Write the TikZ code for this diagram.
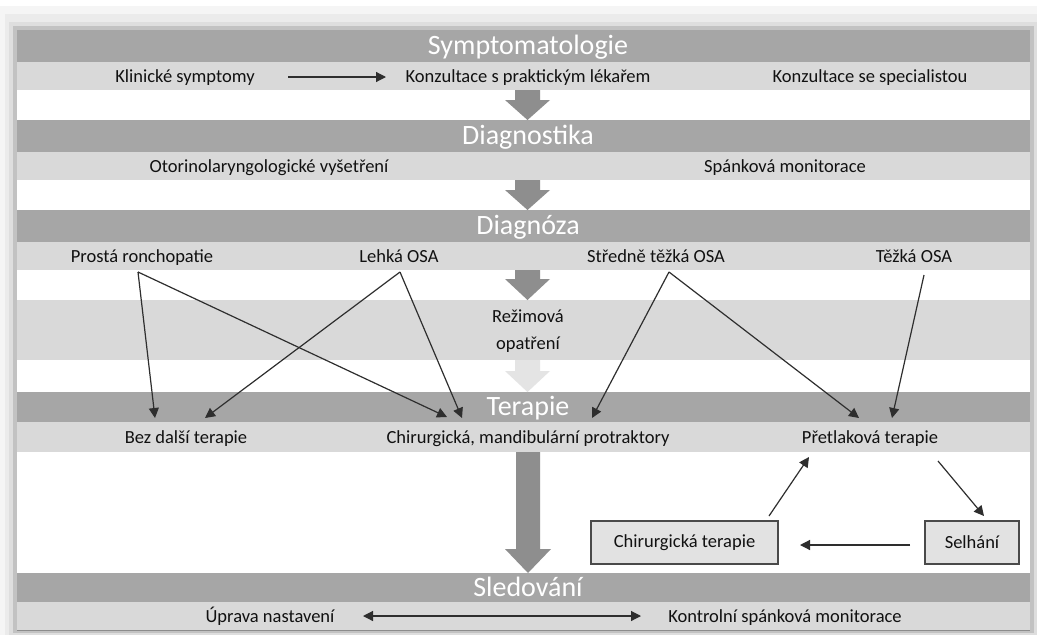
\documentclass[tikz,border=0pt]{standalone}
\usepackage{fontspec}
\setmainfont{Carlito}
\usetikzlibrary{arrows.meta}
\definecolor{bandD}{HTML}{A6A6A6}
\definecolor{bandL}{HTML}{D9D9D9}
\definecolor{bigar}{HTML}{8E8E8E}
\definecolor{bigarL}{HTML}{E4E4E4}
\definecolor{ink}{HTML}{111111}
\definecolor{lnk}{HTML}{2E2E2E}
\definecolor{boxfill}{HTML}{E2E2E2}
\definecolor{boxline}{HTML}{4A4A4A}
\begin{document}
\begin{tikzpicture}[x=1pt,y=-1pt,
  titletext/.style={text=white,font=\fontsize{28}{30}\selectfont,inner sep=0pt,anchor=base},
  lbl/.style={text=ink,font=\fontsize{18.5}{20}\selectfont,inner sep=0pt,anchor=base},
  conn/.style={draw=lnk,line width=1.2pt,-{Triangle[length=10pt,width=10pt]}},
  dconn/.style={draw=lnk,line width=1.2pt,{Triangle[length=10pt,width=10pt]}-{Triangle[length=10pt,width=10pt]}},
  boxnode/.style={draw=boxline,fill=boxfill,line width=1.2pt,minimum height=43pt,inner sep=0pt,text=ink,font=\fontsize{18.5}{20}\selectfont},
  bigarrow/.style={fill=bigar},
  bigarrowL/.style={fill=bigarL}]
\useasboundingbox (0,0) rectangle (1037,635);
% shadow and frame
\fill[white] (0,0) rectangle (1037,635);
\fill[black!4] (0,6) rectangle (1037,635);
\fill[black!8] (5,14) rectangle (1037,635);
\fill[black!13] (9,22) rectangle (1037,635);
\fill[black!24] (13,26) rectangle (1034,633);
\fill[white] (17,30) rectangle (1030,630);
% bands
\fill[bandD] (17,30) rectangle (1030,62);
\fill[bandL] (17,62) rectangle (1030,90);
\fill[bandD] (17,120) rectangle (1030,152);
\fill[bandL] (17,152) rectangle (1030,180);
\fill[bandD] (17,210) rectangle (1030,242);
\fill[bandL] (17,242) rectangle (1030,270);
\fill[bandL] (17,300) rectangle (1030,360);
\fill[bandD] (17,392) rectangle (1030,422);
\fill[bandL] (17,422) rectangle (1030,452);
\fill[bandD] (17,573) rectangle (1030,602);
\fill[bandL] (17,602) rectangle (1030,630);
\draw[black!45,line width=0.8pt] (17,630) -- (1030,630);
% big arrows
\fill[bigarrow] (515,90) -- (540,90) -- (540,100) -- (550,100) -- (527.5,120) -- (505,100) -- (515,100) -- cycle;
\fill[bigarrow] (515,180) -- (540,180) -- (540,190) -- (550,190) -- (527.5,210) -- (505,190) -- (515,190) -- cycle;
\fill[bigarrow] (515,270) -- (540,270) -- (540,279) -- (550,279) -- (527.5,300) -- (505,279) -- (515,279) -- cycle;
\fill[bigarrowL] (515,360) -- (540,360) -- (540,371) -- (550,371) -- (527.5,392) -- (505,371) -- (515,371) -- cycle;
\fill[bigarrow] (516,452) -- (540,452) -- (540,549) -- (551,549) -- (528,573) -- (505,549) -- (516,549) -- cycle;
% titles
\node[titletext] (t1) at (528,54) {Symptomatologie};
\node[titletext] (t2) at (528,144) {Diagnostika};
\node[titletext] (t3) at (528,234) {Diagnóza};
\node[titletext] (t4) at (528,415) {Terapie};
\node[titletext] (t5) at (528,596) {Sledování};
% row 1
\node[lbl] (klin) at (185,82) {Klinické symptomy};
\node[lbl] (konp) at (528,82) {Konzultace s praktickým lékařem};
\node[lbl] (kons) at (870,82) {Konzultace se specialistou};
\coordinate (klinE) at (288,77);
\coordinate (konpW) at (386,77);
\draw[conn] (klinE) -- (konpW);
% row 2
\node[lbl] (orl) at (269,172) {Otorinolaryngologické vyšetření};
\node[lbl] (spm) at (785,172) {Spánková monitorace};
% row 3
\node[lbl] (pr) at (142,262) {Prostá ronchopatie};
\node[lbl] (lo) at (399,262) {Lehká OSA};
\node[lbl] (st) at (656,262) {Středně těžká OSA};
\node[lbl] (to) at (914,262) {Těžká OSA};
% rezimova
\node[lbl] (rez1) at (528,322) {Režimová};
\node[lbl] (rez2) at (528,349) {opatření};
% row terapie
\node[lbl] (bez) at (186,443) {Bez další terapie};
\node[lbl] (chm) at (528,443) {Chirurgická, mandibulární protraktory};
\node[lbl] (pret) at (870,443) {Přetlaková terapie};
% diagonal connectors
\coordinate (prS) at (138,272);
\coordinate (loS) at (400,272);
\coordinate (stS) at (669,272);
\coordinate (toS) at (924,275);
\coordinate (bezA) at (155,418);
\coordinate (bezB) at (205,418);
\coordinate (chmA) at (447,417);
\coordinate (chmB) at (462,418);
\coordinate (chmC) at (592,418);
\coordinate (pretA) at (859,418);
\coordinate (pretB) at (892,418);
\draw[conn] (prS) -- (bezA);
\draw[conn] (prS) -- (chmA);
\draw[conn] (loS) -- (bezB);
\draw[conn] (loS) -- (chmB);
\draw[conn] (stS) -- (chmC);
\draw[conn] (stS) -- (pretA);
\draw[conn] (toS) -- (pretB);
% boxes
\node[boxnode,minimum width=187pt] (chir) at (684.5,542.5) {Chirurgická terapie};
\node[boxnode,minimum width=94pt] (sel) at (972,542.5) {Selhání};
\coordinate (chirN) at (769,516);
\coordinate (pretS1) at (809,457);
\coordinate (pretS2) at (938,461);
\coordinate (selN) at (984,516);
\coordinate (selW) at (910,545);
\coordinate (chirE) at (800,545);
\draw[conn] (chirN) -- (pretS1);
\draw[conn] (pretS2) -- (selN);
\draw[conn] (selW) -- (chirE);
% sledovani
\node[lbl] (upr) at (270,622) {Úprava nastavení};
\node[lbl] (ksm) at (785,622) {Kontrolní spánková monitorace};
\coordinate (uprE) at (363,616);
\coordinate (ksmW) at (641,616);
\draw[dconn] (uprE) -- (ksmW);
\end{tikzpicture}
\end{document}
